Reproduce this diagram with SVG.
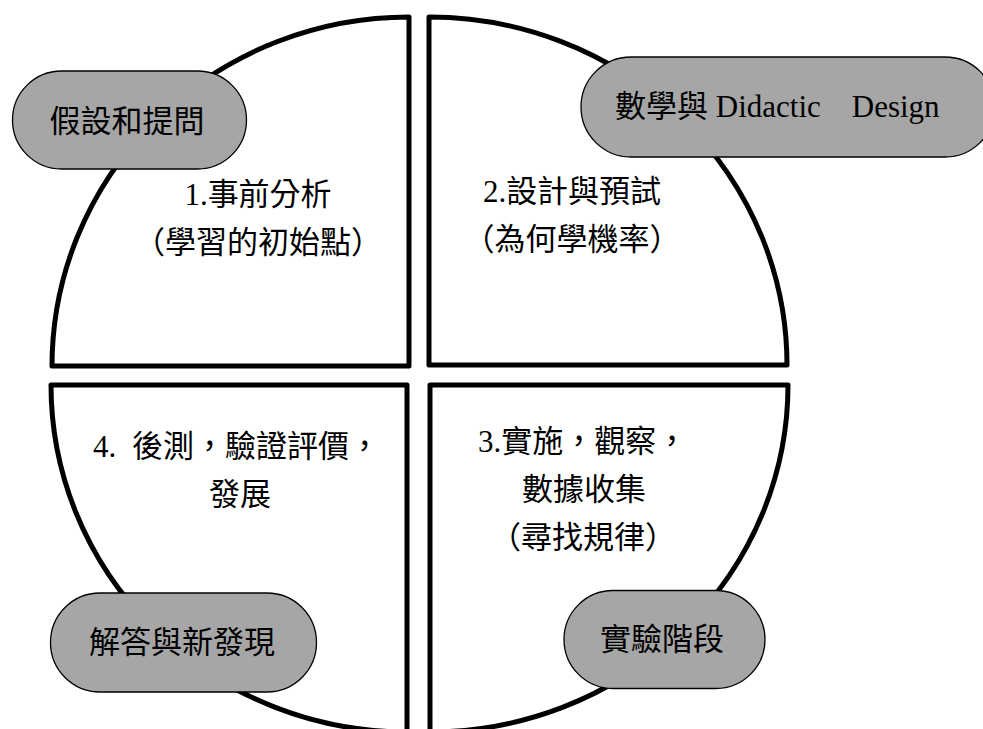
<svg xmlns="http://www.w3.org/2000/svg" width="983" height="729" viewBox="0 0 983 729">
<style>
.quad { fill: #ffffff; stroke: #000000; stroke-width: 5; stroke-linejoin: round; }
.pill { fill: #a6a6a6; stroke: #000000; stroke-width: 1.3; }
.t { font-family: 'Liberation Serif', 'Noto Sans CJK TC', serif; font-size: 31px; fill: #000000; }
.m { text-anchor: middle; }
</style>
<rect width="983" height="729" fill="#ffffff"/>
<g id="q1">
  <path class="quad" d="M409,366 L52,366 A357,349 0 0 1 409,17 Z"/>
  <text class="t m" x="258" y="205">1.事前分析</text>
  <text class="t m" x="258" y="253">（學習的初始點）</text>
</g>
<g id="q2">
  <path class="quad" d="M429,365 L429,17 A358,348 0 0 1 787,365 Z"/>
  <text class="t m" x="572" y="202">2.設計與預試</text>
  <text class="t m" x="572" y="250">（為何學機率）</text>
</g>
<g id="q3">
  <path class="quad" d="M430,385 L788,385 A358,347 0 0 1 430,732 Z"/>
  <text class="t" x="478" y="452">3.實施，觀察，</text>
  <text class="t m" x="584" y="500">數據收集</text>
  <text class="t m" x="583" y="548">（尋找規律）</text>
</g>
<g id="q4">
  <path class="quad" d="M407,385 L407,732 A356,347 0 0 1 51,385 Z"/>
  <text class="t" x="93" y="457"><tspan>4. </tspan><tspan x="132">後測，驗證評價，</tspan></text>
  <text class="t m" x="240" y="505">發展</text>
</g>
<g id="connectors"></g>
<g id="pill-hypothesis">
  <rect class="pill" x="12.5" y="71" width="234" height="98" rx="49" ry="49"/>
  <text class="t m" x="127" y="132">假設和提問</text>
</g>
<g id="pill-design">
  <rect class="pill" x="581" y="57" width="414" height="100" rx="50" ry="50"/>
  <text class="t" x="615" y="117">數學與 Didactic　Design</text>
</g>
<g id="pill-experiment">
  <rect class="pill" x="564" y="590.5" width="201" height="98" rx="49" ry="49"/>
  <text class="t m" x="662" y="650">實驗階段</text>
</g>
<g id="pill-answer">
  <rect class="pill" x="50.5" y="593" width="266" height="99" rx="49.5" ry="49.5"/>
  <text class="t m" x="182" y="653">解答與新發現</text>
</g>
</svg>
